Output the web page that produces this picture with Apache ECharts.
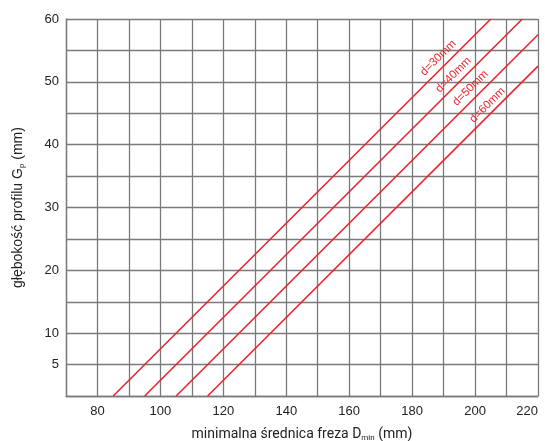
<!DOCTYPE html>
<html>
<head>
<meta charset="utf-8">
<script src="https://cdn.jsdelivr.net/npm/echarts@6/dist/echarts.min.js"></script>
<style>html,body{margin:0;padding:0;background:#fff}#c{width:545px;height:441px}</style>
</head>
<body>
<div id="c"></div>
<script>
// Data
const seriesNames = ['d=30mm', 'd=40mm', 'd=50mm', 'd=60mm'];
const line30 = [[85, 0], [205, 60]];
const line40 = [[95, 0], [215, 60]];
const line50 = [[105, 0], [220, 57.5]];
const line60 = [[115, 0], [220, 52.5]];
const labelPos = [[188.3, 53.8], [193.1, 51.1], [198.5, 49.0], [203.9, 46.3]];
const xTickLabels = [80, 100, 120, 140, 160, 180, 200, 220];
const yTickLabels = [5, 10, 20, 30, 40, 50, 60];

const lines = [line30, line40, line50, line60];
const red = '#e8262d';
const grid = '#7a7a7a';

const chart = echarts.init(document.getElementById('c'));
chart.setOption({
  animation: false,
  backgroundColor: '#fff',
  grid: { left: 66, right: 7, top: 19, bottom: 45, outerBoundsMode: 'none', containLabel: false },
  xAxis: {
    type: 'value', min: 70, max: 220, interval: 10,
    axisLine: { show: true, lineStyle: { color: grid, width: 1.3 } },
    axisTick: { show: false },
    splitLine: { show: true, lineStyle: { color: grid, width: 1.3 } },
    axisLabel: {
      color: '#222', fontSize: 13, fontFamily: 'Liberation Sans', margin: 9,
      alignMaxLabel: 'right',
      formatter: v => xTickLabels.includes(v) ? String(v) : ''
    },
    name: '{a|minimalna średnica freza D}{s|min}{a| (mm)}',
    nameLocation: 'middle', nameGap: 30,
    nameTextStyle: {
      rich: {
        a: { fontSize: 14, color: '#222', fontFamily: 'Roboto' },
        s: { fontSize: 8, color: '#222', fontFamily: 'Roboto', verticalAlign: 'bottom', padding: [8, 0, 0, 0] }
      }
    }
  },
  yAxis: {
    type: 'value', min: 0, max: 60, interval: 5,
    axisLine: { show: true, lineStyle: { color: grid, width: 1.3 } },
    axisTick: { show: false },
    splitLine: { show: true, lineStyle: { color: grid, width: 1.3 } },
    axisLabel: {
      color: '#222', fontSize: 13, fontFamily: 'Liberation Sans', margin: 7,
      formatter: v => yTickLabels.includes(v) ? String(v) : ''
    },
    name: '{a|głębokość profilu G}{s|p}{a| (mm)}',
    nameLocation: 'middle', nameGap: 40,
    nameTextStyle: {
      rich: {
        a: { fontSize: 14, color: '#222', fontFamily: 'Liberation Sans' },
        s: { fontSize: 8, color: '#222', fontFamily: 'Liberation Sans', verticalAlign: 'bottom', padding: [8, 0, 0, 0] }
      }
    }
  },
  series: lines.map((d, i) => ({
    type: 'line',
    name: seriesNames[i],
    data: d,
    symbol: 'none',
    lineStyle: { color: red, width: 1.6 },
    markPoint: {
      symbol: 'circle', symbolSize: 0,
      data: [{ coord: labelPos[i], value: seriesNames[i] }],
      label: {
        show: true, formatter: seriesNames[i], rotate: 45,
        color: red, fontSize: 11.5, fontFamily: 'Liberation Sans'
      }
    }
  }))
});
</script>
</body>
</html>
